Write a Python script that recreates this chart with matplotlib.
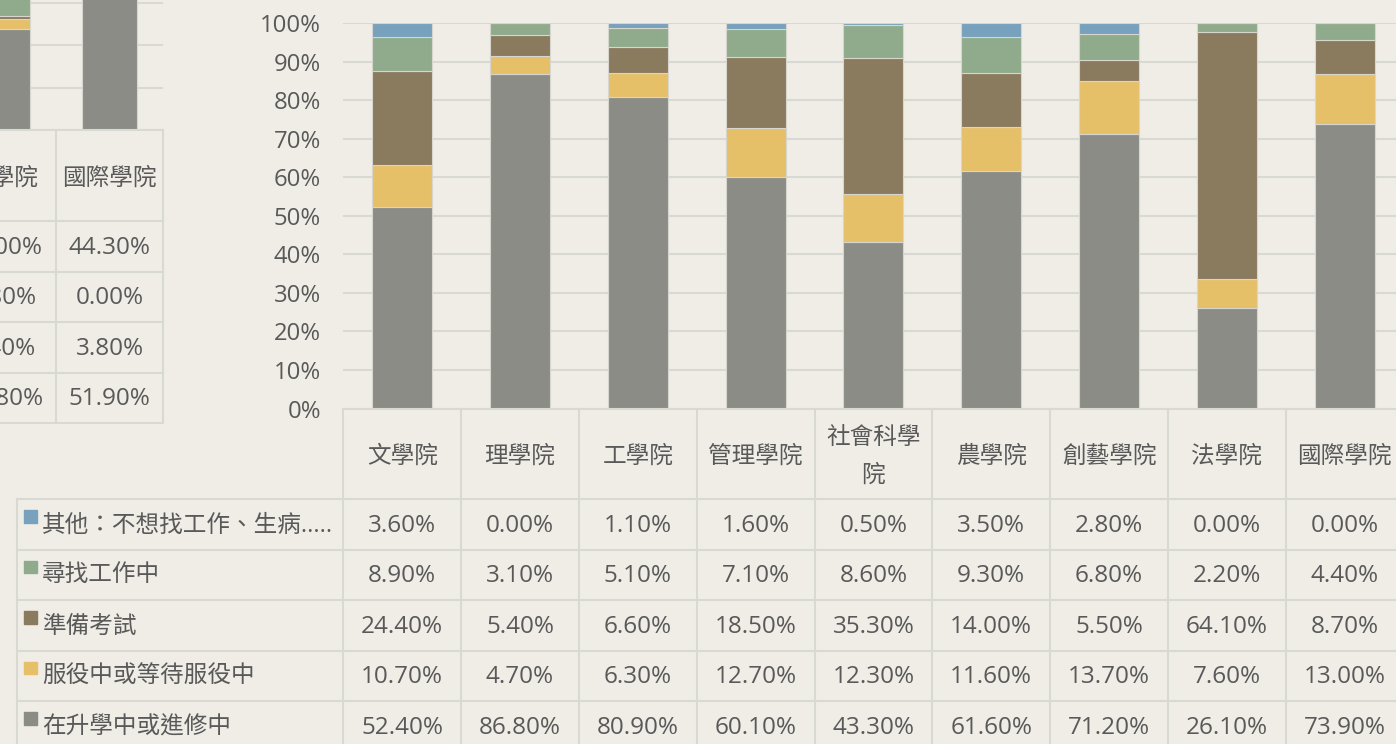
import matplotlib
matplotlib.use('Agg')
import matplotlib.pyplot as plt
from matplotlib.patches import Rectangle

# ---------------- data ----------------
categories = ['文學院', '理學院', '工學院', '管理學院', '社會科學院', '農學院', '創藝學院', '法學院', '國際學院']
header_labels = ['文學院', '理學院', '工學院', '管理學院', '社會科學\n院', '農學院', '創藝學院', '法學院', '國際學院']
series_names = ['在升學中或進修中', '服役中或等待服役中', '準備考試', '尋找工作中', '其他：不想找工作、生病.....']
further = [52.4, 86.8, 80.9, 60.1, 43.3, 61.6, 71.2, 26.1, 73.9]
military = [10.7, 4.7, 6.3, 12.7, 12.3, 11.6, 13.7, 7.6, 13.0]
exam = [24.4, 5.4, 6.6, 18.5, 35.3, 14.0, 5.5, 64.1, 8.7]
jobhunt = [8.9, 3.1, 5.1, 7.1, 8.6, 9.3, 6.8, 2.2, 4.4]
other = [3.6, 0.0, 1.1, 1.6, 0.5, 3.5, 2.8, 0.0, 0.0]
yticks = [0, 10, 20, 30, 40, 50, 60, 70, 80, 90, 100]

# partially visible chart on the left
left_categories = ['法學院', '國際學院']
left_gray = [23.8, 51.9]
left_yellow = [2.4, 3.8]
left_brown = [0.8, 0.0]
left_green = [73.0, 44.3]

# ---------------- style ----------------
W, H = 1396, 744
BG = '#efede6'
GRID = '#d9d9d4'
TXT = '#595959'
C_GRAY = '#8b8c86'
C_YEL = '#e6bf69'
C_BRN = '#8a7a5e'
C_GRN = '#8fab8c'
C_BLU = '#77a1bd'
FS_NUM = 17.5
FS_CJK = 17.0
FS_TICK = 17.2
plt.rcParams['font.family'] = ['Open Sans', 'Noto Sans CJK TC', 'DejaVu Sans']

fig = plt.figure(figsize=(W / 100, H / 100), dpi=100, facecolor=BG)


def px_axes(x0, y0, x1, y1, **kw):
    return fig.add_axes([x0 / W, 1 - y1 / H, (x1 - x0) / W, (y1 - y0) / H], **kw)


# ---------------- main chart ----------------
COLW = 117.8
X0 = 343.3
XR = X0 + 9 * COLW
YT, YB = 23.3, 408.5
ax = px_axes(X0, YT, XR, YB)
ax.set_facecolor('none')
ax.set_xlim(-0.5, 8.5)
ax.set_ylim(0, 100)
ax.set_yticks(yticks)
ax.set_yticklabels([f'{v}%' for v in yticks], fontsize=FS_TICK, color=TXT)
ax.tick_params(axis='y', length=0, pad=16)
ax.set_xticks([])
for s in ax.spines.values():
    s.set_visible(False)
ax.yaxis.grid(True, color=GRID, lw=1.5)
ax.set_axisbelow(True)

xs = list(range(len(categories)))
stack = [further, military, exam, jobhunt, other]
colors = [C_GRAY, C_YEL, C_BRN, C_GRN, C_BLU]
bottom = [0.0] * len(categories)
for vals, col in zip(stack, colors):
    ax.bar(xs, vals, width=0.51, bottom=bottom, color=col, edgecolor='#d6d6cf', lw=0.8, zorder=3)
    bottom = [b + v for b, v in zip(bottom, vals)]

# ---------------- left partial chart ----------------
LCW = 107.3
LX0 = 56 - LCW
LYB = 130
ax2 = px_axes(LX0, LYB - 10 * 42.3, LX0 + 2 * LCW, LYB)
ax2.set_facecolor('none')
ax2.set_xlim(-0.5, 1.5)
ax2.set_ylim(0, 100)
ax2.set_yticks(yticks)
ax2.set_yticklabels([])
ax2.tick_params(length=0)
ax2.set_xticks([])
for s in ax2.spines.values():
    s.set_visible(False)
ax2.yaxis.grid(True, color=GRID, lw=1.5)
ax2.set_axisbelow(True)
lstack = [left_gray, left_yellow, left_brown, left_green]
lcols = [C_GRAY, C_YEL, C_BRN, C_GRN]
lb = [0.0, 0.0]
for vals, col in zip(lstack, lcols):
    ax2.bar([0, 1], vals, width=0.51, bottom=lb, color=col, edgecolor='#d6d6cf', lw=0.8, zorder=3)
    lb = [b + v for b, v in zip(lb, vals)]

# ---------------- overlay for data tables ----------------
ov = fig.add_axes([0, 0, 1, 1])
ov.set_xlim(0, W)
ov.set_ylim(H, 0)
ov.axis('off')
ov.set_facecolor('none')

LW = 1.5
# main table
col_edges = [X0 + k * COLW for k in range(10)]
HB = 499
RH = 50.5
row_edges = [HB + r * RH for r in range(6)]
LEG_X = 17
ov.plot([X0, XR], [YB, YB], color=GRID, lw=LW)
for y in row_edges:
    ov.plot([LEG_X, XR], [y, y], color=GRID, lw=LW)
for x in col_edges:
    ov.plot([x, x], [YB, row_edges[-1]], color=GRID, lw=LW)
ov.plot([LEG_X, LEG_X], [HB, row_edges[-1]], color=GRID, lw=LW)

for i, lab in enumerate(header_labels):
    ov.text(X0 + (i + 0.5) * COLW, (YB + HB) / 2 + 3, lab, ha='center', va='center',
            fontsize=FS_CJK, color=TXT, linespacing=1.8)

table_rows = [other, jobhunt, exam, military, further]
row_names = series_names[::-1]
row_colors = colors[::-1]
for r, (vals, name, col) in enumerate(zip(table_rows, row_names, row_colors)):
    top = row_edges[r]
    cy = top + RH / 2 + 1.5
    ov.add_patch(Rectangle((24, top + 11), 12.5, 12.5, color=col))
    ov.text(42, cy, name, ha='left', va='center', fontsize=FS_CJK, color=TXT)
    for i, v in enumerate(vals):
        ov.text(X0 + (i + 0.5) * COLW, cy, f'{v:.2f}%', ha='center', va='center',
                fontsize=FS_NUM, color=TXT)

# left table
l_edges = [LX0 + k * LCW for k in range(3)]
l_rows = [130, 221, 271.7, 322.3, 372.7, 422.7]
for y in l_rows:
    ov.plot([0, l_edges[-1]], [y, y], color=GRID, lw=LW)
for x in l_edges[1:]:
    ov.plot([x, x], [l_rows[0], l_rows[-1]], color=GRID, lw=LW)
for i, lab in enumerate(left_categories):
    ov.text(LX0 + (i + 0.5) * LCW, (l_rows[0] + l_rows[1]) / 2 + 3, lab, ha='center', va='center',
            fontsize=FS_CJK, color=TXT)
l_table = [left_green, left_brown, left_yellow, left_gray]
for r, vals in enumerate(l_table):
    cy = (l_rows[r + 1] + l_rows[r + 2]) / 2 + 1.5
    for i, v in enumerate(vals):
        ov.text(LX0 + (i + 0.5) * LCW, cy, f'{v:.2f}%', ha='center', va='center',
                fontsize=FS_NUM, color=TXT)

fig.savefig('out.png', dpi=100, facecolor=BG)
